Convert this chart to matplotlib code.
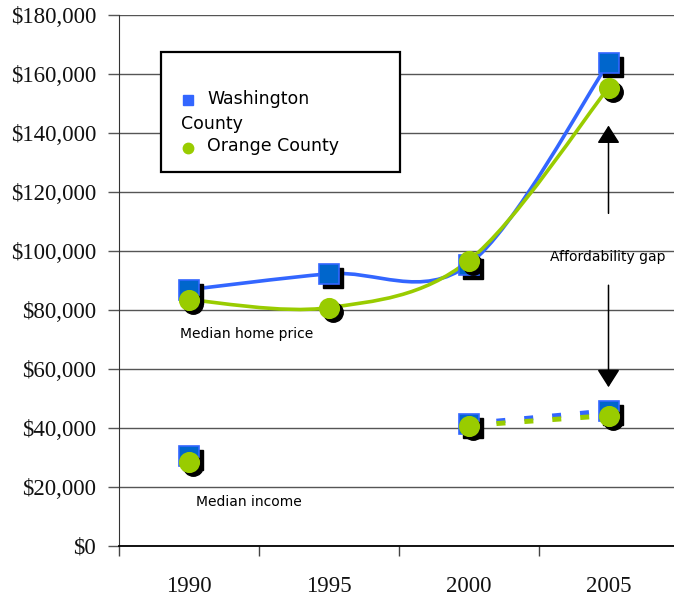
import matplotlib
matplotlib.use("Agg")
import matplotlib.pyplot as plt
from matplotlib.path import Path
from matplotlib.patches import PathPatch, Rectangle
from matplotlib.lines import Line2D
from matplotlib.ticker import FuncFormatter, MultipleLocator
from matplotlib.transforms import ScaledTranslation

# data
years = ['1990', '1995', '2000', '2005']
wash_price = [86800, 92200, 95300, 163700]
orange_price = [83400, 80700, 96600, 155300]
wash_income = [30500, 41300, 45700]      # 1990, 2000, 2005
orange_income = [28500, 40700, 44100]
income_idx = [0, 2, 3]

BLUE_LINE = '#3366FF'
BLUE_FILL = '#0066CC'
GREEN = '#99CC00'

W, H = 674, 599
fig = plt.figure(figsize=(W / 100, H / 100), dpi=100)
ax = fig.add_axes([118.5 / W, 53.5 / H, (W - 118.5) / W, (545.5 - 15) / H])


def smooth_path(xs, ys):
    # Catmull-Rom style bezier, similar to spreadsheet "smoothed line"
    pts = list(zip(xs, ys))
    n = len(pts)
    verts = [pts[0]]
    codes = [Path.MOVETO]
    for i in range(n - 1):
        p0 = pts[max(i - 1, 0)]
        p1 = pts[i]
        p2 = pts[i + 1]
        p3 = pts[min(i + 2, n - 1)]
        c1 = (p1[0] + (p2[0] - p0[0]) / 6, p1[1] + (p2[1] - p0[1]) / 6)
        c2 = (p2[0] - (p3[0] - p1[0]) / 6, p2[1] - (p3[1] - p1[1]) / 6)
        verts += [c1, c2, p2]
        codes += [Path.CURVE4] * 3
    return Path(verts, codes)


xpos = list(range(len(years)))

# price lines (smoothed)
ax.add_patch(PathPatch(smooth_path(xpos, wash_price), fill=False,
                       edgecolor=BLUE_LINE, lw=2.6, capstyle='round', zorder=3))
ax.add_patch(PathPatch(smooth_path(xpos, orange_price), fill=False,
                       edgecolor=GREEN, lw=2.6, capstyle='round', zorder=3))

# income dashed lines 2000 -> 2005
ax.plot(income_idx[1:], wash_income[1:], color=BLUE_LINE, lw=3.6, dashes=(1.8, 3.8), zorder=3)
ax.plot(income_idx[1:], orange_income[1:], color=GREEN, lw=3.6, dashes=(1.8, 3.8), zorder=3)

shadow = ax.transData + ScaledTranslation(3 / 72, -3 / 72, fig.dpi_scale_trans)

for xs, ys, mk, fc, ec, z in [
        (xpos, wash_price, 's', BLUE_FILL, BLUE_LINE, 4),
        (income_idx, wash_income, 's', BLUE_FILL, BLUE_LINE, 4),
        (xpos, orange_price, 'o', GREEN, GREEN, 6),
        (income_idx, orange_income, 'o', GREEN, GREEN, 6)]:
    ax.plot(xs, ys, ls='none', marker=mk, ms=14, color='black', transform=shadow, zorder=z)
    ax.plot(xs, ys, ls='none', marker=mk, ms=14, mfc=fc, mec=ec, mew=1.2, zorder=z + 1)

# axes styling
ax.yaxis.set_major_locator(MultipleLocator(20000))
ax.yaxis.set_major_formatter(FuncFormatter(lambda v, p: '${:,.0f}'.format(v)))
ax.set_xticks([i - 0.5 for i in range(5)])
ax.set_xticks(xpos, minor=True)
ax.set_xticklabels([])
ax.set_xticklabels(years, minor=True)
ax.set_xlim(-0.5, -0.5 + (W - 118.5) / 140)
ax.set_ylim(0, 180000)
ax.tick_params(axis='x', which='major', length=7, width=1, color='#444444')
ax.tick_params(axis='x', which='minor', length=0, pad=22)
ax.tick_params(axis='y', length=8, width=1, color='#555555', pad=8)
for lab in ax.get_yticklabels() + ax.get_xticklabels(minor=True):
    lab.set_fontfamily('Liberation Serif')
    lab.set_fontsize(16.5)
    lab.set_color('#111111')
ax.grid(axis='y', color='#555555', lw=1)
ax.set_axisbelow(True)
for s in ['top', 'right']:
    ax.spines[s].set_visible(False)
ax.spines['left'].set_color('#333333')
ax.spines['bottom'].set_color('black')
ax.spines['bottom'].set_linewidth(1.3)

# annotations
fig.text(180 / W, 1 - 334 / H, 'Median home price', fontsize=10, va='center', ha='left')
fig.text(196 / W, 1 - 502 / H, 'Median income', fontsize=10, va='center', ha='left')
fig.text(608 / W, 1 - 257 / H, 'Affordability gap', fontsize=10, va='center', ha='center')

arrow = dict(arrowstyle='-|>,head_length=1.1,head_width=0.7', mutation_scale=10,
             color='black', lw=1.1, shrinkA=0, shrinkB=0)
ax.annotate('', xy=(3, 142500), xytext=(3, 112700), arrowprops=arrow)
ax.annotate('', xy=(3, 53700), xytext=(3, 88300), arrowprops=arrow)


# legend box drawn by hand (wrapped label like the original)
def fx(px):
    return px / W


def fy(py):
    return 1 - py / H


fig.add_artist(Rectangle((fx(161), fy(172)), fx(400) - fx(161), fy(52) - fy(172),
                         transform=fig.transFigure, fill=True, facecolor='white',
                         edgecolor='black', lw=1.6, zorder=10))
fig.add_artist(Line2D([fx(188)], [fy(100)], marker='s', ms=7.5, color=BLUE_LINE,
                      ls='none', transform=fig.transFigure, zorder=11))
fig.add_artist(Line2D([fx(188)], [fy(148)], marker='o', ms=7.5, color=GREEN,
                      ls='none', transform=fig.transFigure, zorder=11))
fig.text(fx(207), fy(99), 'Washington', fontsize=12.5, va='center', ha='left', zorder=12)
fig.text(fx(181), fy(124), 'County', fontsize=12.5, va='center', ha='left', zorder=12)
fig.text(fx(207), fy(146), 'Orange County', fontsize=12.5, va='center', ha='left', zorder=12)

fig.savefig('out.png', dpi=100)
